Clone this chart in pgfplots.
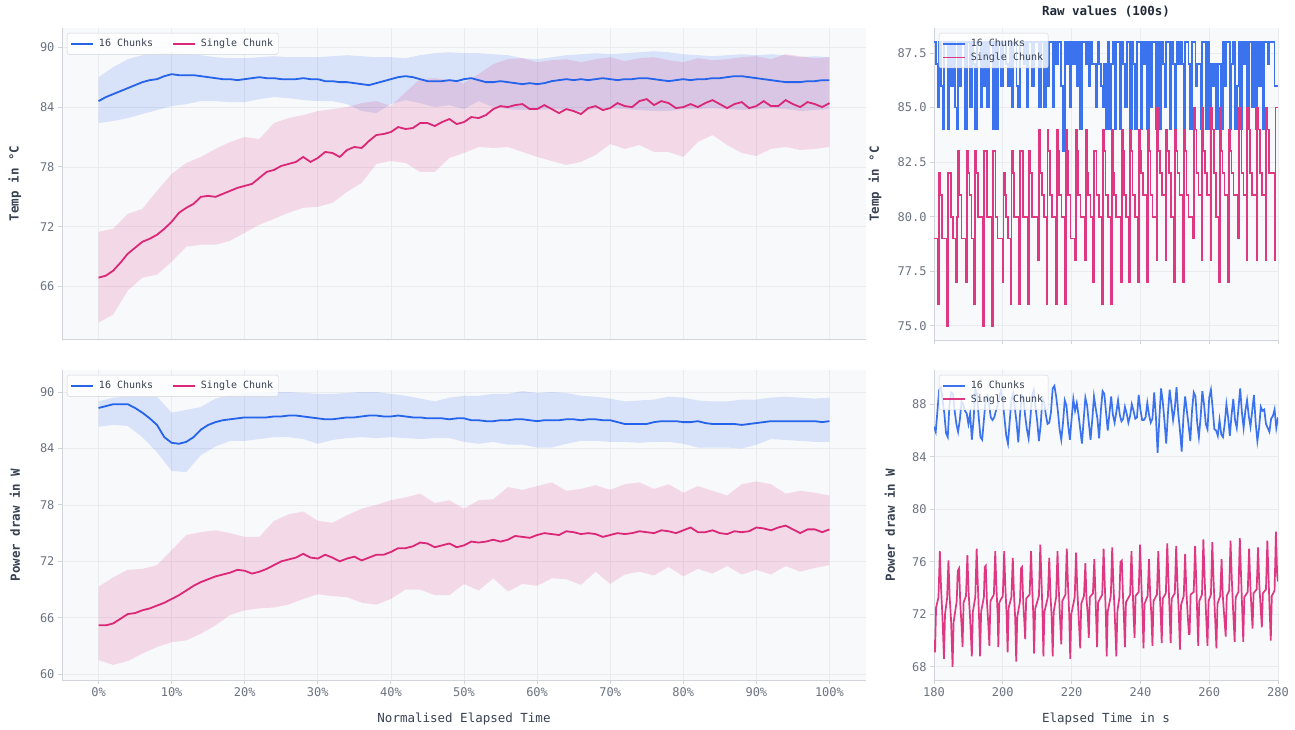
\documentclass[border=0pt]{standalone}
\usepackage{fontspec}
\setmainfont{DejaVu Sans Mono}
\usepackage{pgfplots}
\pgfplotsset{compat=1.18}
\usepackage{pgfplotstable}

\definecolor{cblue}{RGB}{37,99,235}
\definecolor{cpink}{RGB}{219,39,119}
\colorlet{rblue}{cblue!90!white}
\colorlet{rpink}{cpink!92!white}
\definecolor{axbg}{RGB}{248,249,251}
\definecolor{gridc}{RGB}{233,235,239}
\definecolor{spine}{RGB}{209,213,219}
\definecolor{tickc}{RGB}{107,114,128}
\definecolor{labc}{RGB}{55,65,81}
\definecolor{titc}{RGB}{31,41,55}

\pgfplotstableread{
x b p
0 84.6 66.9
1 85.0 67.1
2 85.3 67.6
3 85.6 68.4
4 85.9 69.3
5 86.2 69.9
6 86.5 70.5
7 86.7 70.8
8 86.8 71.2
9 87.1 71.8
10 87.3 72.5
11 87.2 73.4
12 87.2 73.9
13 87.2 74.3
14 87.1 75.0
15 87.0 75.1
16 86.9 75.0
17 86.8 75.3
18 86.8 75.6
19 86.7 75.9
20 86.8 76.1
21 86.9 76.3
22 87.0 76.9
23 86.9 77.5
24 86.9 77.7
25 86.8 78.1
26 86.8 78.3
27 86.8 78.5
28 86.9 79.0
29 86.8 78.5
30 86.8 78.9
31 86.6 79.5
32 86.6 79.4
33 86.5 79.0
34 86.5 79.7
35 86.4 80.0
36 86.3 79.9
37 86.2 80.6
38 86.4 81.2
39 86.6 81.3
40 86.8 81.5
41 87.0 82.0
42 87.1 81.8
43 87.0 81.9
44 86.8 82.4
45 86.6 82.4
46 86.6 82.1
47 86.6 82.5
48 86.7 82.8
49 86.6 82.3
50 86.8 82.5
51 86.9 83.0
52 86.7 82.9
53 86.5 83.2
54 86.5 83.8
55 86.6 84.1
56 86.5 84.0
57 86.4 84.2
58 86.3 84.3
59 86.4 83.8
60 86.3 83.8
61 86.4 84.2
62 86.6 83.8
63 86.7 83.4
64 86.8 83.8
65 86.7 83.6
66 86.8 83.3
67 86.7 83.9
68 86.8 84.1
69 86.9 83.7
70 86.8 83.9
71 86.7 84.4
72 86.8 84.1
73 86.8 84.0
74 86.9 84.6
75 86.9 84.8
76 86.8 84.2
77 86.7 84.6
78 86.6 84.4
79 86.7 83.9
80 86.8 84.0
81 86.7 84.3
82 86.8 84.0
83 86.8 84.4
84 86.9 84.7
85 86.9 84.3
86 87.0 83.9
87 87.1 84.3
88 87.1 84.5
89 87.0 83.9
90 86.9 84.1
91 86.8 84.6
92 86.7 84.1
93 86.6 84.1
94 86.5 84.7
95 86.5 84.3
96 86.5 84.0
97 86.6 84.5
98 86.6 84.3
99 86.7 84.0
100 86.7 84.4
}\TLmean

\pgfplotstableread{
x b p
0 88.3 65.2
1 88.5 65.2
2 88.7 65.4
3 88.7 65.9
4 88.7 66.4
5 88.3 66.5
6 87.8 66.8
7 87.2 67.0
8 86.5 67.3
9 85.2 67.6
10 84.6 68.0
11 84.5 68.4
12 84.7 68.9
13 85.2 69.4
14 86.0 69.8
15 86.5 70.1
16 86.8 70.4
17 87.0 70.6
18 87.1 70.8
19 87.2 71.1
20 87.3 71.0
21 87.3 70.7
22 87.3 70.9
23 87.3 71.2
24 87.4 71.6
25 87.4 72.0
26 87.5 72.2
27 87.5 72.4
28 87.4 72.8
29 87.3 72.4
30 87.2 72.3
31 87.1 72.7
32 87.1 72.4
33 87.2 72.0
34 87.3 72.3
35 87.3 72.5
36 87.4 72.1
37 87.5 72.4
38 87.5 72.7
39 87.4 72.7
40 87.4 73.0
41 87.5 73.4
42 87.4 73.4
43 87.3 73.6
44 87.3 74.0
45 87.2 73.9
46 87.2 73.5
47 87.2 73.7
48 87.1 73.9
49 87.2 73.5
50 87.2 73.7
51 87.0 74.1
52 87.0 74.0
53 86.9 74.1
54 86.9 74.3
55 87.0 74.1
56 87.0 74.3
57 87.1 74.7
58 87.1 74.6
59 87.0 74.5
60 86.9 74.8
61 87.0 75.0
62 87.0 74.9
63 87.0 74.8
64 87.1 75.2
65 87.1 75.1
66 87.0 74.9
67 87.1 75.0
68 87.1 74.9
69 87.0 74.6
70 87.0 74.8
71 86.8 75.0
72 86.6 74.9
73 86.6 75.0
74 86.6 75.2
75 86.6 75.1
76 86.8 75.0
77 86.9 75.3
78 86.9 75.2
79 86.9 75.0
80 86.8 75.3
81 86.8 75.6
82 86.9 75.1
83 86.7 75.1
84 86.6 75.3
85 86.6 75.0
86 86.6 74.9
87 86.6 75.2
88 86.5 75.1
89 86.6 75.2
90 86.7 75.6
91 86.8 75.5
92 86.9 75.3
93 86.9 75.6
94 86.9 75.8
95 86.9 75.4
96 86.9 75.0
97 86.9 75.4
98 86.9 75.4
99 86.8 75.1
100 86.9 75.4
}\BLmean

\pgfplotsset{
  base/.style={
    scale only axis,
    axis background/.style={fill=axbg},
    axis x line*=bottom, axis y line*=left,
    axis line style={draw=spine, line width=0.9pt},
    grid=major,
    major grid style={draw=gridc, line width=0.8pt},
    tick align=outside,
    major tick length=4pt,
    tick style={draw=spine, line width=0.9pt},
    tick label style={font=\fontsize{12}{14}\selectfont, color=tickc},
    /pgf/number format/assume math mode=true,
    ylabel style={font=\fontsize{12.5}{15}\selectfont\bfseries, color=labc, anchor=center},
    xlabel style={font=\fontsize{12.5}{15}\selectfont, color=labc, anchor=center},
    legend cell align=left,
    legend style={draw=spine, fill=white, fill opacity=0.8, text opacity=1,
      rounded corners=2pt, font=\fontsize{10}{12}\selectfont, text=labc,
      inner xsep=3pt, inner ysep=4pt, anchor=north west,
      /tikz/every odd column/.append style={column sep=3pt}},
    legend image code/.code={\draw[##1] (0pt,0pt) -- (22pt,0pt);},
  },
  leftax/.style={base, width=804pt, xmin=-5, xmax=105, xtick={0,10,...,100},
    legend columns=2,
    legend style={at={(axis description cs:0.0062,0.984)},
      /tikz/every even column/.append style={column sep=17pt}},
    ylabel style={at={(axis description cs:-0.0585,0.5)}},
  },
  rightax/.style={base, width=344pt, xmin=180, xmax=280, xtick={180,200,...,280},
    legend style={at={(axis description cs:0.0145,0.984)}, row sep=0.5pt,
      inner xsep=3pt},
  },
  bandb/.style={fill=cblue, fill opacity=0.15, draw=none, forget plot},
  bandp/.style={fill=cpink, fill opacity=0.15, draw=none, forget plot},
}

\begin{document}
\begin{tikzpicture}
\path[use as bounding box] (0,0) rectangle (1295pt,730pt);

% ---------------- top left ----------------
\begin{axis}[leftax, at={(62pt,391pt)}, anchor=south west, height=311pt,
  ymin=60.75, ymax=91.93, ytick={66,72,...,90},
  xticklabels={}, xtick style={draw=none},
  ylabel={Temp in °C}]
\addplot[bandb] coordinates {
(0,87.0)(2,88.0)(4,88.8)(6,89.2)(8,89.4)(10,89.5)(12,89.3)(14,89.2)(16,89.0)(18,88.9)(20,88.9)
(22,89.0)(24,89.1)(26,89.0)(28,89.0)(30,89.0)(32,89.1)(34,89.2)(36,89.1)(38,89.0)(40,89.0)
(42,88.9)(44,89.2)(46,89.4)(48,89.5)(50,89.4)(52,89.4)(54,89.3)(56,89.2)(58,88.9)(60,88.8)
(62,89.0)(64,89.2)(66,89.3)(68,89.4)(70,89.3)(72,89.4)(74,89.5)(76,89.6)(78,89.5)(80,89.3)
(82,89.2)(84,89.1)(86,89.2)(88,89.3)(90,89.2)(92,89.3)(94,89.2)(96,89.0)(98,89.1)(100,89.0)
(100,83.8)(98,83.7)(96,83.6)(94,83.8)(92,83.9)(90,83.8)(88,83.7)(86,83.8)(84,83.9)(82,83.8)
(80,83.8)(78,83.6)(76,83.6)(74,83.7)(72,83.8)(70,83.9)(68,83.8)(66,83.6)(64,83.7)(62,83.8)
(60,83.7)(58,83.7)(56,83.8)(54,84.0)(52,84.6)(50,83.8)(48,84.2)(46,84.0)(44,84.4)(42,84.7)
(40,84.3)(38,83.4)(36,83.6)(34,84.3)(32,84.6)(30,84.6)(28,84.7)(26,84.9)(24,85.0)(22,84.8)
(20,84.5)(18,84.5)(16,84.6)(14,84.6)(12,84.3)(10,84.1)(8,83.7)(6,83.3)(4,82.9)(2,82.6)(0,82.4)};
\addplot[bandp] coordinates {
(0,71.5)(2,71.8)(4,73.3)(6,73.8)(8,75.6)(10,77.3)(12,78.4)(14,79.0)(16,79.8)(18,80.5)(20,81.0)
(22,80.8)(24,82.4)(26,82.9)(28,83.2)(30,83.6)(32,83.8)(34,84.0)(36,84.4)(38,84.6)(40,84.1)
(42,85.5)(44,86.8)(46,86.9)(48,86.7)(50,86.4)(52,87.3)(54,88.3)(56,88.8)(58,88.9)(60,88.5)
(62,88.7)(64,88.8)(66,88.5)(68,88.8)(70,89.0)(72,88.6)(74,88.9)(76,89.0)(78,88.7)(80,88.5)
(82,88.9)(84,88.7)(86,88.8)(88,89.0)(90,89.1)(92,88.8)(94,89.3)(96,89.1)(98,88.9)(100,89.0)
(100,80.0)(98,79.8)(96,79.7)(94,80.0)(92,79.8)(90,79.1)(88,79.4)(86,80.2)(84,81.2)(82,80.5)
(80,79.0)(78,79.5)(76,79.5)(74,80.2)(72,79.8)(70,80.3)(68,79.2)(66,78.5)(64,78.2)(62,78.6)
(60,79.0)(58,79.5)(56,80.0)(54,79.9)(52,80.0)(50,79.4)(48,78.9)(46,77.5)(44,77.5)(42,78.4)
(40,78.6)(38,78.3)(36,76.4)(34,75.5)(32,74.4)(30,74.0)(28,73.9)(26,73.4)(24,72.8)(22,72.2)
(20,71.4)(18,70.6)(16,70.2)(14,70.2)(12,70.0)(10,68.5)(8,67.2)(6,66.9)(4,65.6)(2,63.2)(0,62.4)};
\addplot[cblue, line width=1.8pt] table[x=x,y=b]{\TLmean};
\addlegendentry{16 Chunks}
\addplot[cpink, line width=1.8pt] table[x=x,y=p]{\TLmean};
\addlegendentry{Single Chunk}
\end{axis}

% ---------------- bottom left ----------------
\begin{axis}[leftax, at={(62pt,50pt)}, anchor=south west, height=310pt,
  ymin=59.39, ymax=92.34, ytick={60,66,...,90},
  xticklabel={\pgfmathprintnumber{\tick}\%},
  xlabel={Normalised Elapsed Time},
  xlabel style={at={(axis description cs:0.5,-0.1258)}},
  ylabel={Power draw in W}]
\addplot[bandb] coordinates {
(0,89.0)(2,89.4)(4,89.5)(6,89.5)(8,89.5)(10,87.8)(12,88.1)(14,88.4)(16,89.3)(18,89.7)(20,89.9)
(22,89.9)(24,90.0)(26,90.0)(28,89.9)(30,89.8)(32,89.8)(34,89.9)(36,90.0)(38,90.0)(40,89.8)
(42,89.6)(44,89.3)(46,89.0)(48,89.4)(50,89.6)(52,89.6)(54,89.8)(56,89.8)(58,90.1)(60,89.9)
(62,90.0)(64,89.9)(66,89.6)(68,89.5)(70,89.3)(72,89.0)(74,89.1)(76,89.2)(78,89.5)(80,89.4)
(82,89.1)(84,89.0)(86,89.0)(88,89.2)(90,89.2)(92,89.4)(94,89.5)(96,89.4)(98,89.3)(100,89.4)
(100,84.7)(98,84.7)(96,84.8)(94,84.9)(92,85.0)(90,84.4)(88,84.0)(86,84.1)(84,84.1)(82,84.1)
(80,84.5)(78,84.7)(76,84.7)(74,84.6)(72,84.7)(70,84.7)(68,84.8)(66,84.8)(64,84.5)(62,84.1)
(60,84.1)(58,84.4)(56,84.4)(54,84.7)(52,84.5)(50,84.7)(48,85.1)(46,85.1)(44,85.0)(42,85.1)
(40,85.2)(38,85.1)(36,85.2)(34,85.1)(32,84.9)(30,84.5)(28,85.0)(26,85.2)(24,85.2)(22,85.0)
(20,84.8)(18,84.8)(16,84.2)(14,83.3)(12,81.5)(10,81.6)(8,83.6)(6,85.2)(4,86.4)(2,86.5)(0,86.3)};
\addplot[bandp] coordinates {
(0,69.3)(2,70.3)(4,71.1)(6,71.2)(8,71.6)(10,73.2)(12,74.8)(14,75.1)(16,75.3)(18,75.0)(20,74.6)
(22,74.6)(24,76.3)(26,77.0)(28,77.3)(30,76.3)(32,76.1)(34,76.9)(36,77.6)(38,78.0)(40,78.5)
(42,78.8)(44,79.2)(46,78.2)(48,78.5)(50,77.6)(52,78.5)(54,78.6)(56,79.9)(58,79.6)(60,80.0)
(62,80.4)(64,79.5)(66,79.7)(68,80.1)(70,79.6)(72,80.2)(74,80.4)(76,79.7)(78,80.2)(80,79.3)
(82,80.0)(84,79.5)(86,79.0)(88,80.2)(90,80.5)(92,80.2)(94,79.2)(96,79.5)(98,79.3)(100,79.0)
(100,71.6)(98,71.3)(96,70.9)(94,71.5)(92,70.6)(90,71.1)(88,70.6)(86,71.5)(84,70.7)(82,71.2)
(80,70.4)(78,71.4)(76,70.5)(74,70.9)(72,70.6)(70,69.6)(68,70.9)(66,69.5)(64,70.1)(62,70.2)
(60,69.4)(58,69.6)(56,68.8)(54,70.2)(52,68.9)(50,69.6)(48,68.4)(46,68.4)(44,69.0)(42,69.0)
(40,68.0)(38,67.4)(36,67.6)(34,68.2)(32,68.3)(30,68.5)(28,68.0)(26,67.4)(24,67.1)(22,67.0)
(20,66.8)(18,66.3)(16,65.2)(14,64.3)(12,63.6)(10,63.4)(8,62.9)(6,62.2)(4,61.4)(2,61.0)(0,61.5)};
\addplot[cblue, line width=1.8pt] table[x=x,y=b]{\BLmean};
\addlegendentry{16 Chunks}
\addplot[cpink, line width=1.8pt] table[x=x,y=p]{\BLmean};
\addlegendentry{Single Chunk}
\end{axis}

% ---------------- top right ----------------
\begin{axis}[rightax, at={(934pt,390pt)}, anchor=south west, height=312pt,
  ymin=74.35, ymax=88.65, ytick={75,77.5,...,87.5},
  yticklabel style={/pgf/number format/.cd, fixed, fixed zerofill, precision=1},
  xticklabels={},
  ylabel={Temp in °C},
  ylabel style={at={(axis description cs:-0.1715,0.5)}},
  title={Raw values (100s)},
  title style={font=\fontsize{12.5}{15}\selectfont\bfseries, color=titc,
    at={(axis description cs:0.5,1.0513)}, anchor=center, yshift=-6pt}]
\addplot[rblue, line width=1.7pt, const plot] coordinates {
(180,88)(180.5,87)(181,85)(181.5,88)(182,86)(182.5,84)(183,88)(183.5,88)(184,84)(184.5,88)
(185,86)(185.5,88)(186,85)(186.5,84)(187,88)(187.5,86)(188,88)(188.5,88)(189,84)(189.5,88)
(190,88)(190.5,85)(191,88)(191.5,87)(192,84)(192.5,88)(193,88)(193.5,85)(194,88)(194.5,86)
(195,88)(195.5,85)(196,88)(196.5,88)(197,84)(197.5,88)(198,84)(198.5,88)(199,88)(199.5,86)
(200,88)(200.5,88)(201,87)(201.5,86)(202,88)(202.5,85)(203,88)(203.5,88)(204,86)(204.5,85)
(205,88)(205.5,88)(206,87)(206.5,88)(207,85)(207.5,88)(208,88)(208.5,86)(209,88)(209.5,88)
(210,88)(210.5,85)(211,88)(211.5,88)(212,85)(212.5,88)(213,86)(213.5,88)(214,88)(214.5,85)
(215,88)(215.5,87)(216,88)(216.5,88)(217,86)(217.5,83)(218,88)(218.5,87)(219,88)(219.5,85)
(220,88)(220.5,87)(221,88)(221.5,86)(222,88)(222.5,84)(223,88)(223.5,88)(224,87)(224.5,88)
(225,86)(225.5,88)(226,87)(226.5,87)(227,85)(227.5,88)(228,87)(228.5,86)(229,85)(229.5,87)
(230,84)(230.5,88)(231,84)(231.5,87)(232,88)(232.5,84)(233,88)(233.5,88)(234,84)(234.5,88)
(235,87)(235.5,85)(236,88)(236.5,88)(237,84)(237.5,88)(238,87)(238.5,84)(239,88)(239.5,88)
(240,84)(240.5,88)(241,87)(241.5,88)(242,84)(242.5,88)(243,85)(243.5,88)(244,88)(244.5,84)
(245,88)(245.5,84)(246,88)(246.5,87)(247,85)(247.5,88)(248,88)(248.5,84)(249,88)(249.5,87)
(250,84)(250.5,88)(251,87)(251.5,88)(252,87)(252.5,84)(253,88)(253.5,88)(254,87)(254.5,84)
(255,88)(255.5,88)(256,86)(256.5,87)(257,87)(257.5,84)(258,88)(258.5,88)(259,84)(259.5,88)
(260,84)(260.5,87)(261,86)(261.5,87)(262,84)(262.5,87)(263,87)(263.5,84)(264,88)(264.5,86)
(265,88)(265.5,88)(266,84)(266.5,87)(267,88)(267.5,84)(268,86)(268.5,88)(269,84)(269.5,88)
(270,87)(270.5,88)(271,84)(271.5,88)(272,88)(272.5,85)(273,88)(273.5,84)(274,88)(274.5,86)
(275,88)(275.5,84)(276,88)(276.5,88)(277,87)(277.5,88)(278,88)(278.5,88)(279,86)(279.5,86)
(280,86)};
\addlegendentry{16 Chunks}
\addplot[rpink, line width=1.7pt, const plot] coordinates {
(180,79)
(181.26,76)(181.51,82)(181.86,81)(182.26,79)(182.86,79)
(183.87,75)(184.12,82)(184.47,82)(184.87,80)(185.47,79)
(186.39,77)(186.64,80)(186.9,83)(187.39,81)(187.99,79)
(189.29,77)(189.54,83)(189.89,82)(190.29,81)(190.89,79)
(191.71,76)(191.96,83)(192.31,82)(192.71,80)(193.31,80)
(194.33,75)(194.58,83)(194.93,83)(195.33,80)(195.93,80)
(196.84,75)(197.09,83)(197.44,83)(197.84,80)(198.44,79)
(199.94,77)(200.19,82)(200.54,81)(200.94,80)(201.54,79)
(202.27,76)(202.52,83)(202.87,82)(203.27,80)(203.87,80)
(204.78,76)(205.03,83)(205.38,83)(205.78,80)(206.38,80)
(207.40,76)(207.65,83)(208.0,82)(208.4,80)(209.0,80)
(210.30,78)(210.55,84)(210.9,82)(211.3,81)(211.9,80)
(212.72,76)(212.97,84)(213.32,83)(213.72,81)(214.32,80)
(215.43,76)(215.68,84)(216.03,83)(216.43,81)(217.03,80)
(218.04,76)(218.29,84)(218.64,83)(219.04,81)(219.64,79)
(220.95,78)(221.2,84)(221.55,83)(221.95,81)(222.55,80)
(223.85,78)(224.1,84)(224.45,82)(224.85,81)(225.45,80)
(226.27,77)(226.52,83)(226.87,83)(227.27,81)(227.87,80)
(228.89,76)(229.14,84)(229.49,83)(229.89,81)(230.49,80)
(231.40,76)(231.65,84)(232.0,82)(232.4,81)(233.0,80)
(234.31,77)(234.56,84)(234.91,83)(235.31,81)(235.91,80)
(236.73,77)(236.98,84)(237.33,83)(237.73,81)(238.33,80)
(239.24,77)(239.49,84)(239.84,83)(240.24,82)(240.84,81)
(241.95,77)(242.2,84)(242.55,83)(242.95,81)(243.55,80)
(244.67,78)(244.92,85)(245.27,83)(245.67,82)(246.27,81)
(247.28,78)(247.53,84)(247.88,83)(248.28,82)(248.88,80)
(249.80,77)(250.05,84)(250.4,83)(250.8,82)(251.4,81)
(252.41,77)(252.66,84)(253.01,83)(253.41,81)(254.01,80)
(255.32,79)(255.57,85)(255.92,84)(256.32,82)(256.92,81)
(257.73,78)(257.98,85)(258.33,83)(258.73,82)(259.33,81)
(260.35,78)(260.6,85)(260.95,84)(261.35,82)(261.95,80)
(262.87,77)(263.12,85)(263.47,83)(263.87,82)(264.47,81)
(265.48,77)(265.73,84)(266.08,83)(266.48,82)(267.08,81)
(268.38,79)(268.63,85)(268.98,84)(269.38,82)(269.98,81)
(270.80,78)(271.05,85)(271.4,84)(271.8,82)(272.4,81)
(273.71,78)(273.96,85)(274.31,84)(274.71,82)(275.31,81)
(276.32,78)(276.57,85)(276.92,84)(277.32,82)(277.92,82)
(279.03,78)(279.28,85)(280,85)};
\addlegendentry{Single Chunk}
\end{axis}

% ---------------- bottom right ----------------
\begin{axis}[rightax, at={(934pt,50pt)}, anchor=south west, height=310pt,
  ymin=66.99, ymax=90.61, ytick={68,72,...,88},
  xlabel={Elapsed Time in s},
  xlabel style={at={(axis description cs:0.5,-0.1258)}},
  ylabel={Power draw in W},
  ylabel style={at={(axis description cs:-0.128,0.5)}}]
\addplot[rblue, line width=1.7pt] coordinates {
(180,86.3)(180.5,85.9)(181,87.5)(181.5,89.1)(182,89.3)(182.5,88.3)(183,87.3)(183.5,85.8)(184,85.5)(184.5,88.0)
(185,88.9)(185.5,88.8)(186,87.5)(186.5,86.5)(187,85.9)(187.5,86.8)(188,88.2)(188.5,88.0)(189,87.5)(189.5,87.3)
(190,86.5)(190.5,87.3)(191,85.3)(191.5,86.8)(192,89.1)(192.5,88.8)(193,87.0)(193.5,85.5)(194,85.3)(194.5,86.8)
(195,88.3)(195.5,88.6)(196,88.0)(196.5,87.0)(197,86.8)(197.5,87.0)(198,87.5)(198.5,88.0)(199,88.6)(199.5,89.1)
(200,88.2)(200.5,86.9)(201,85.6)(201.5,85.0)(202,86.7)(202.5,88.3)(203,88.8)(203.5,87.7)(204,86.6)(204.5,85.1)
(205,87.2)(205.5,88.7)(206,88.5)(206.5,87.1)(207,86.1)(207.5,85.4)(208,86.9)(208.5,88.6)(209,89.1)(209.5,87.8)
(210,86.7)(210.5,85.2)(211,86.4)(211.5,88.4)(212,88.2)(212.5,87.2)(213,86.5)(213.5,86.6)(214,87.4)(214.5,89.2)
(215,89.4)(215.5,88.6)(216,87.5)(216.5,86.1)(217,85.3)(217.5,86.6)(218,88.3)(218.5,87.9)(219,86.4)(219.5,85.3)
(220,86.9)(220.5,88.4)(221,87.5)(221.5,88.1)(222,87.2)(222.5,86.1)(223,85.0)(223.5,86.8)(224,88.5)(224.5,87.9)
(225,86.6)(225.5,85.3)(226,86.8)(226.5,88.6)(227,87.7)(227.5,86.9)(228,85.4)(228.5,87.5)(229,89.0)(229.5,88.8)
(230,87.4)(230.5,86.0)(231,87.3)(231.5,88.6)(232,87.2)(232.5,86.6)(233,87.4)(233.5,88.3)(234,87.2)(234.5,86.7)
(235,86.9)(235.5,87.8)(236,87.3)(236.5,86.6)(237,87.1)(237.5,88.0)(238,87.5)(238.5,86.9)(239,87.0)(239.5,88.7)
(240,87.6)(240.5,86.8)(241,86.8)(241.5,87.0)(242,88.1)(242.5,87.2)(243,86.6)(243.5,86.9)(244,88.9)(244.5,87.1)
(245,84.3)(245.5,86.9)(246,89.2)(246.5,88.2)(247,86.7)(247.5,85.0)(248,87.3)(248.5,89.1)(249,88.0)(249.5,86.8)
(250,87.7)(250.5,89.3)(251,87.3)(251.5,86.0)(252,84.4)(252.5,87.0)(253,88.6)(253.5,87.5)(254,86.4)(254.5,85.2)
(255,87.5)(255.5,88.9)(256,88.6)(256.5,86.6)(257,85.5)(257.5,87.0)(258,89.0)(258.5,88.0)(259,86.5)(259.5,86.1)
(260,88.5)(260.5,89.1)(261,87.7)(261.5,86.1)(262,86.0)(262.5,85.6)(263,86.8)(263.5,85.7)(264,85.5)(264.5,86.5)
(265,88.0)(265.5,87.0)(266,85.6)(266.5,87.2)(267,88.4)(267.5,86.8)(268,86.2)(268.5,87.7)(269,89.2)(269.5,87.4)
(270,86.2)(270.5,87.5)(271,88.3)(271.5,87.1)(272,86.3)(272.5,87.5)(273,88.7)(273.5,86.6)(274,85.2)(274.5,86.2)
(275,87.8)(275.5,87.5)(276,87.6)(276.5,86.5)(277,86.2)(277.5,85.9)(278,86.9)(278.5,87.1)(279,87.6)(279.5,86.2)
(280,87.0)};
\addlegendentry{16 Chunks}
\addplot[rpink, line width=1.7pt] coordinates {
(180,70.0)
(180.3,69.1)(180.6,72.5)(181.3,73.3)(181.7,76.8)(182.05,74.0)(182.45,71.8)
(182.9,68.6)(183.2,72.0)(183.8,73.2)(184.2,76.1)(184.55,73.3)(184.95,71.6)
(185.4,68.0)(185.7,71.4)(186.6,73.0)(186.9,75.3)(187.3,75.5)(187.65,72.7)(188.0,71.2)
(188.3,69.5)(188.6,72.9)(189.3,73.4)(189.7,76.5)(190.05,73.7)(190.45,71.9)
(191.0,68.8)(191.3,72.2)(192.0,73.3)(192.4,77.0)(192.75,74.2)(193.1,71.7)
(193.4,68.8)(193.7,72.2)(194.5,73.3)(194.75,75.6)(195.05,75.7)(195.4,72.9)(195.75,71.4)
(196.1,69.6)(196.4,73.0)(197.4,73.5)(197.8,76.8)(198.15,74.0)(198.5,72.0)
(198.7,69.5)(199.0,72.9)(200.0,73.4)(200.4,76.8)(200.75,74.0)(201.1,72.0)
(201.4,69.1)(201.7,72.5)(202.5,73.3)(202.9,76.3)(203.25,73.5)(203.6,71.7)
(203.9,68.4)(204.2,71.8)(205.0,73.0)(205.3,75.5)(205.6,75.6)(205.95,72.8)(206.25,71.5)
(206.5,70.1)(206.8,73.2)(207.8,73.5)(208.2,76.8)(208.55,74.0)(208.85,72.0)
(209.1,69.0)(209.4,72.4)(210.5,73.4)(210.9,77.3)(211.25,74.5)(211.55,72.0)
(211.8,68.8)(212.1,72.2)(213.1,73.3)(213.5,76.3)(213.85,73.5)(214.2,71.8)
(214.5,68.8)(214.8,72.2)(215.5,73.3)(215.9,76.8)(216.25,74.0)(216.6,71.9)
(217.0,69.7)(217.3,73.0)(218.2,73.5)(218.6,77.0)(218.95,74.2)(219.3,72.0)
(219.6,68.6)(219.9,72.0)(220.9,73.3)(221.3,76.7)(221.65,73.9)(222.05,71.8)
(222.5,69.4)(222.8,72.8)(223.6,73.4)(224.0,75.9)(224.35,73.1)(224.7,72.0)
(225.0,70.2)(225.3,73.3)(226.2,73.6)(226.6,76.2)(226.95,73.4)(227.1,72.0)
(227.4,69.5)(227.7,72.9)(228.9,73.5)(229.3,77.0)(229.65,74.2)(229.95,72.0)
(230.2,68.8)(230.5,72.2)(231.4,73.4)(231.8,77.1)(232.15,74.3)(232.55,71.9)
(233.0,68.8)(233.3,72.2)(233.9,73.3)(234.2,76.0)(234.6,76.1)(234.95,73.3)(235.2,71.8)
(235.5,69.5)(235.8,72.9)(237.0,73.5)(237.4,76.8)(237.75,74.0)(238.0,72.0)
(238.3,70.2)(238.6,73.4)(239.5,73.7)(239.9,77.3)(240.25,74.5)(240.6,72.2)
(240.9,69.4)(241.2,72.8)(242.1,73.4)(242.5,76.2)(242.85,73.4)(243.2,71.9)
(243.5,69.6)(243.8,73.0)(244.8,73.5)(245.2,76.8)(245.55,74.0)(245.9,72.0)
(246.2,69.8)(246.5,73.2)(247.4,73.6)(247.8,77.4)(248.15,74.6)(248.5,72.1)
(248.8,69.8)(249.1,73.2)(250.0,73.6)(250.4,77.2)(250.75,74.4)(251.15,72.1)
(251.5,69.3)(251.8,72.7)(252.6,73.4)(253.0,76.6)(253.35,73.8)(253.75,71.9)
(254.1,70.5)(254.3,70.5)(254.6,73.5)(255.5,73.7)(255.9,77.2)(256.25,74.4)(256.5,72.1)
(256.8,69.6)(257.1,73.0)(257.9,73.5)(258.3,77.7)(258.65,74.9)(259.05,72.2)
(259.5,69.6)(259.8,73.0)(260.5,73.5)(260.9,77.5)(261.25,74.7)(261.65,72.1)
(262.1,69.4)(262.4,72.8)(263.2,73.4)(263.6,76.2)(263.95,73.4)(264.35,71.9)
(264.8,70.3)(265.1,73.4)(265.8,73.8)(266.2,77.6)(266.55,74.8)(266.95,72.3)
(267.4,69.9)(267.7,73.3)(268.5,73.7)(268.9,77.8)(269.25,75.0)(269.6,72.3)
(269.9,69.9)(270.2,73.3)(271.2,73.7)(271.6,77.0)(271.95,74.2)(272.3,72.3)
(272.6,70.9)(272.9,73.6)(273.8,73.9)(274.2,77.1)(274.55,74.3)(274.95,72.5)
(275.3,71.0)(275.6,73.6)(276.5,73.9)(276.9,77.6)(277.25,74.8)(277.55,72.4)
(277.9,70.0)(278.2,73.4)(279.0,73.8)(279.4,78.3)(279.75,75.0)(280,74.5)};
\addlegendentry{Single Chunk}
\end{axis}
\end{tikzpicture}
\end{document}
